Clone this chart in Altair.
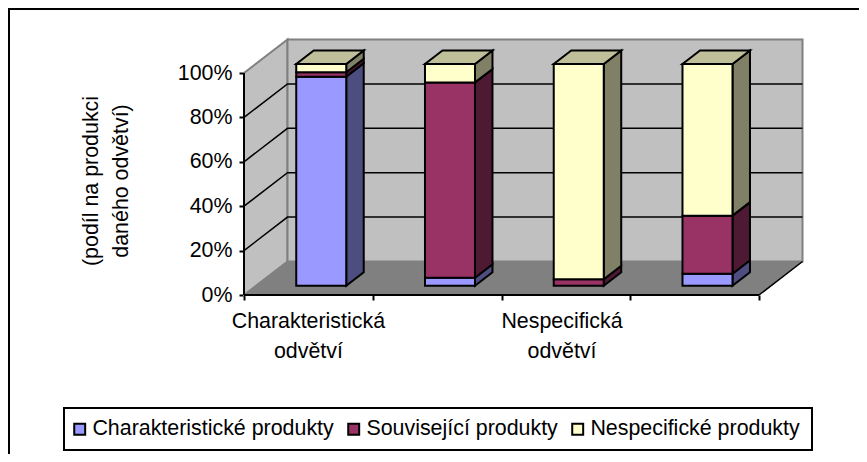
import altair as alt
import pandas as pd

products = ["Charakteristické produkty", "Související produkty", "Nespecifické produkty"]
face_colors = ["#9999FF", "#993366", "#FFFFCC"]
side_colors = ["#4D4D80", "#4D1933", "#808066"]
top_color = "#BFBF99"
char_values = [94.3, 3.6, 0.0, 5.4]
rel_values = [2.0, 88.1, 2.9, 26.2]
non_values = [3.7, 8.3, 97.1, 68.4]
y_ticks = [0, 20, 40, 60, 80, 100]
x_ticks = [0, 1, 2, 3, 4]
cat_labels = [(0.5, "Charakteristická", "odvětví"), (2.47, "Nespecifická", "odvětví")]
FONT = "Liberation Sans"
FS = 21.4

# oblique projection of the 3-D box: units are categories (x) and percent (y)
PX = 128.75      # pixels per category
PY = 2.22        # pixels per percent
W, H = 851, 446
X0, Y0 = 244 - 8, 295 - 8   # axis origin inside the plot
DX, DY = 43.5 / PX, 33.5 / PY  # full depth of the box in scale units
Z1, Z2 = 0.278, 0.68    # front and back plane of the columns
BAR = 50 / PX

xscale = alt.Scale(domain=[-X0 / PX, (W - X0) / PX], range=[0, W], nice=False, zero=False)
yscale = alt.Scale(domain=[-(H - Y0) / PY, Y0 / PY], range=[H, 0], nice=False, zero=False)

fronts, sides, tops = [], [], []
for c in range(4):
    xl = c + 0.5 - BAR / 2 + Z1 * DX + 0.006
    xr = xl + BAR
    base = 0.0
    d = Z2 - Z1
    for p, vals in enumerate([char_values, rel_values, non_values]):
        v = vals[c]
        if v <= 0:
            continue
        lo, hi = base, base + v
        base = hi
        ylo = lo * 0.9986 + Z1 * DY
        yhi = hi * 0.9986 + Z1 * DY
        fronts.append(dict(x=xl, x2=xr, y=ylo, y2=yhi, product=products[p]))
        gid = f"s{c}{p}"
        sides.append(dict(g=gid, x=xr, y=ylo, y2=yhi, c=side_colors[p]))
        sides.append(dict(g=gid, x=xr + d * DX, y=ylo + d * DY, y2=yhi + d * DY, c=side_colors[p]))
    top = base * 0.9986 + Z1 * DY
    tops.append(dict(g=f"t{c}", y=top, x=xl, x2=xr))
    tops.append(dict(g=f"t{c}", y=top + d * DY, x=xl + d * DX, x2=xr + d * DX))

X = alt.X("x:Q", scale=xscale, axis=alt.Axis(
    values=x_ticks, labels=False, title=None, domain=False, grid=False,
    offset=-(H - Y0), tickSize=5, tickWidth=2, tickColor="black"))
Y = alt.Y("y:Q", scale=yscale, axis=alt.Axis(
    values=y_ticks, labelExpr="datum.value + '%'", title=None, domain=False, grid=False,
    offset=-X0, tickSize=5, tickWidth=2, tickColor="black", labelColor="black",
    labelFont=FONT, labelFontSize=FS, labelPadding=7))
GRAY = "#808080"

left_wall = alt.Chart(pd.DataFrame([
    dict(x=0, y=0, y2=100), dict(x=DX, y=DY, y2=100 + DY)])).mark_area(
    color="#C0C0C0", stroke=GRAY, strokeWidth=2, orient="vertical"
).encode(X, Y, y2="y2:Q")

back_wall = alt.Chart(pd.DataFrame([dict(x=DX, x2=4 + DX, y=DY, y2=100 + DY)])).mark_rect(
    color="#C0C0C0", stroke=GRAY, strokeWidth=2
).encode(X, x2="x2:Q", y=Y, y2="y2:Q")

floor = alt.Chart(pd.DataFrame([dict(y=0, x=0, x2=4), dict(y=DY, x=DX, x2=4 + DX)])).mark_area(
    color=GRAY, orient="horizontal", stroke=GRAY, strokeWidth=1
).encode(X, Y, x2="x2:Q")

grid_rows = []
for t in y_ticks[1:-1]:
    grid_rows += [dict(g=t, x=0, y=t), dict(g=t, x=DX, y=t + DY), dict(g=t, x=4 + DX, y=t + DY)]
grid = alt.Chart(pd.DataFrame(grid_rows)).mark_line(color="black", strokeWidth=1.5).encode(X, Y, detail="g:N")

floor_edge = alt.Chart(pd.DataFrame([dict(x=4, y=0), dict(x=4 + DX, y=DY)])).mark_line(
    color="black", strokeWidth=1.5).encode(X, Y)

y_line = alt.Chart(pd.DataFrame(dict(x=[0, 0], y=[0, 100]))).mark_line(color="black", strokeWidth=2).encode(X, Y)
x_line = alt.Chart(pd.DataFrame(dict(x=[0, 4], y=[0, 0]))).mark_line(color="black", strokeWidth=2).encode(X, Y)

side_layer = alt.Chart(pd.DataFrame(sides)).mark_area(stroke="black", strokeWidth=2, orient="vertical").encode(
    X, Y, y2="y2:Q", detail="g:N", fill=alt.Fill("c:N", scale=None))

top_layer = alt.Chart(pd.DataFrame(tops)).mark_area(
    fill=top_color, stroke="black", strokeWidth=2, orient="horizontal"
).encode(X, Y, x2="x2:Q", detail="g:N")

front_layer = alt.Chart(pd.DataFrame(fronts)).mark_rect(stroke="black", strokeWidth=2).encode(
    X, x2="x2:Q", y=Y, y2="y2:Q",
    fill=alt.Fill("product:N", scale=alt.Scale(domain=products, range=face_colors), legend=alt.Legend(
        title=None, orient="none", legendX=51, legendY=400, direction="horizontal", columns=3,
        symbolType="square", symbolSize=120, symbolStrokeColor="black", symbolStrokeWidth=2,
        labelFont=FONT, labelFontSize=FS, labelColor="black", labelLimit=400,
        padding=10, columnPadding=9, labelOffset=2, rowPadding=0)),
)

lab_rows = []
for pos, a, b in cat_labels:
    lab_rows.append(dict(x=pos, y=-12.3, t=a))
    lab_rows.append(dict(x=pos, y=-25.9, t=b))
labels = alt.Chart(pd.DataFrame(lab_rows)).mark_text(
    font=FONT, fontSize=FS, color="black", baseline="middle", align="center"
).encode(X, Y, text="t:N")

title_df = pd.DataFrame(dict(t=["(podíl na produkci", "daného odvětví)"], x=[84, 114]))
y_title = alt.Chart(title_df).mark_text(
    font=FONT, fontSize=FS, color="black", angle=270, align="center", baseline="middle"
).encode(x=alt.X("x:Q", scale=None), y=alt.value(173), text="t:N")

frame_v = alt.Chart(pd.DataFrame(dict(a=[0]))).mark_rule(color="black", strokeWidth=2).encode(
    x=alt.value(1), y=alt.value(0), y2=alt.value(H))
frame_h = alt.Chart(pd.DataFrame(dict(a=[0]))).mark_rule(color="black", strokeWidth=2).encode(
    y=alt.value(1), x=alt.value(0), x2=alt.value(W))
legend_box = alt.Chart(pd.DataFrame(dict(a=[0]))).mark_rect(fill="white", stroke="black", strokeWidth=2).encode(
    x=alt.value(56), x2=alt.value(804), y=alt.value(400), y2=alt.value(442))

chart = alt.layer(
    left_wall, back_wall, floor, grid, floor_edge, y_line, x_line,
    side_layer, top_layer, front_layer, labels
).resolve_scale(x="shared", y="shared")

chart = alt.layer(frame_v, frame_h, legend_box, chart, y_title).properties(
    width=W, height=H, padding=0, autosize=alt.AutoSizeParams(type="none"), background="white"
).configure_view(stroke=None)

chart.save("out.html", embed_options={"renderer": "svg", "actions": False})
